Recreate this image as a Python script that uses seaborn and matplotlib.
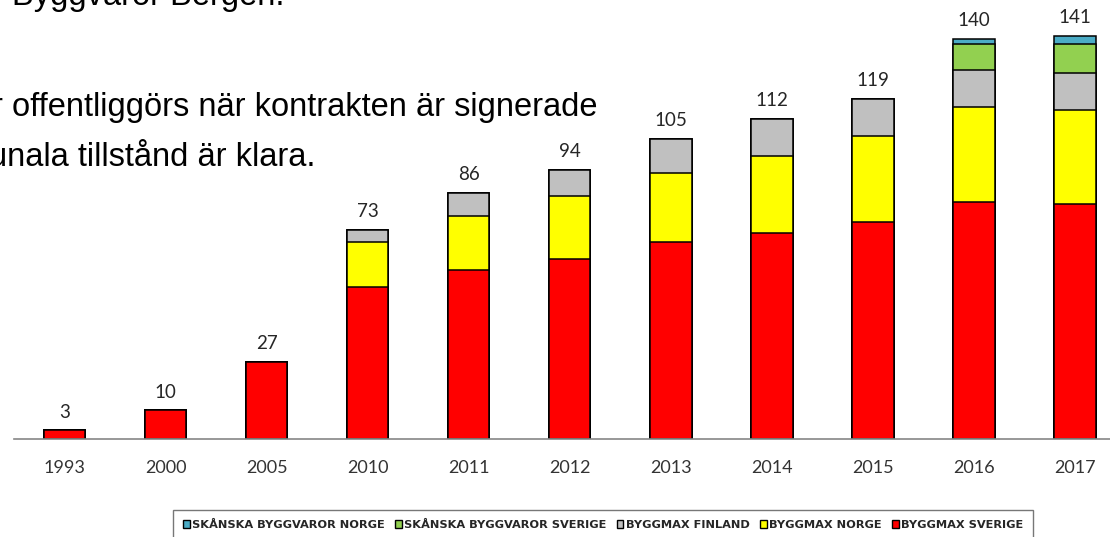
#Byggmax / Skånska Byggvaror - antal butiker per år
import pandas as pd
import seaborn as sns
import numpy as np
import matplotlib.pyplot as plt
from matplotlib.patches import Patch

#data
years = ["1993", "2000", "2005", "2010", "2011", "2012", "2013", "2014", "2015", "2016", "2017"]
byggmax_sverige = [3, 10, 27, 53, 59, 63, 69, 72, 76, 83, 82]
byggmax_norge = [0, 0, 0, 16, 19, 22, 24, 27, 30, 33, 33]
byggmax_finland = [0, 0, 0, 4, 8, 9, 12, 13, 13, 13, 13]
skanska_sverige = [0, 0, 0, 0, 0, 0, 0, 0, 0, 9, 10]
skanska_norge = [0, 0, 0, 0, 0, 0, 0, 0, 0, 2, 3]
totals = [3, 10, 27, 73, 86, 94, 105, 112, 119, 140, 141]

series_names = ["SKÅNSKA BYGGVAROR NORGE", "SKÅNSKA BYGGVAROR SVERIGE",
                "BYGGMAX FINLAND", "BYGGMAX NORGE", "BYGGMAX SVERIGE"]
colors = ["#4BACC6", "#92D050", "#C0C0C0", "#FFFF00", "#FF0000"]

df = pd.DataFrame({
    "year": years,
    "BYGGMAX SVERIGE": byggmax_sverige,
    "BYGGMAX NORGE": byggmax_norge,
    "BYGGMAX FINLAND": byggmax_finland,
    "SKÅNSKA BYGGVAROR SVERIGE": skanska_sverige,
    "SKÅNSKA BYGGVAROR NORGE": skanska_norge,
})

#staplade: rita kumulativa summor uppifrån och ner
stack_order = ["BYGGMAX SVERIGE", "BYGGMAX NORGE", "BYGGMAX FINLAND",
               "SKÅNSKA BYGGVAROR SVERIGE", "SKÅNSKA BYGGVAROR NORGE"]
cum = df[stack_order].cumsum(axis=1)

sns.set_style("white")
fig = plt.figure(figsize=(11.1, 5.37), dpi=100)
W, H = 1110, 537
# axes: x från px 14 till 1125.5, baslinje y=439, 2.86 px per enhet
ax = fig.add_axes([14 / W, (H - 439) / H, (1125.5 - 14) / W, 150 * 2.86 / H])

for name, col in zip(series_names, colors):
    sns.barplot(x=df["year"], y=cum[name], color=col, width=0.41,
                edgecolor="black", linewidth=1.1, saturation=1, ax=ax)

ax.set_xlim(-0.5, 10.5)
ax.set_ylim(0, 150)
ax.set_xlabel("")
ax.set_ylabel("")
ax.set_yticks([])

#etiketter ovanför staplarna
ax.bar_label(ax.containers[0], labels=[str(t) for t in totals], padding=7,
             fontsize=13.5, family="Lato", color="#262626")

for s in ["top", "right", "left"]:
    ax.spines[s].set_visible(False)
ax.spines["bottom"].set_color("#868686")
ax.spines["bottom"].set_linewidth(1.2)

ax.set_xticks(range(len(years)))
ax.set_xticklabels(years, family="Lato", fontsize=13, color="#333333")
ax.tick_params(axis="x", which="major", length=0, pad=15)
ax.set_xticks(np.arange(-0.5, 11, 1.0), minor=True)
ax.tick_params(axis="x", which="minor", length=5.5, width=1.2, color="#868686", direction="out")

#legend
handles = [Patch(facecolor=c, edgecolor="black", linewidth=1.0) for c in colors]
leg = fig.legend(handles, series_names, loc="upper center", bbox_to_anchor=(603 / W, 1 - 504 / H),
                 ncol=5, frameon=True, fancybox=False, handlelength=0.6, handleheight=0.7,
                 handletextpad=0.2, columnspacing=0.9, borderpad=0.9,
                 prop={"family": "DejaVu Sans Condensed", "weight": "bold", "size": 8.2})
leg.get_frame().set_edgecolor("#555555")
leg.get_frame().set_linewidth(1.0)

#text från bilden bakom
txt = dict(family="Liberation Sans", fontsize=23.5, color="black", va="baseline", ha="left")
fig.text(12 / W, 1 - 5 / H, "Byggvaror Bergen.", **txt)
fig.text(-8 / W, 1 - 116 / H, "r offentliggörs när kontrakten är signerade", **txt)
fig.text(-11 / W, 1 - 166 / H, "unala tillstånd är klara.", **txt)

fig.savefig("out.png", dpi=100, facecolor="white")
